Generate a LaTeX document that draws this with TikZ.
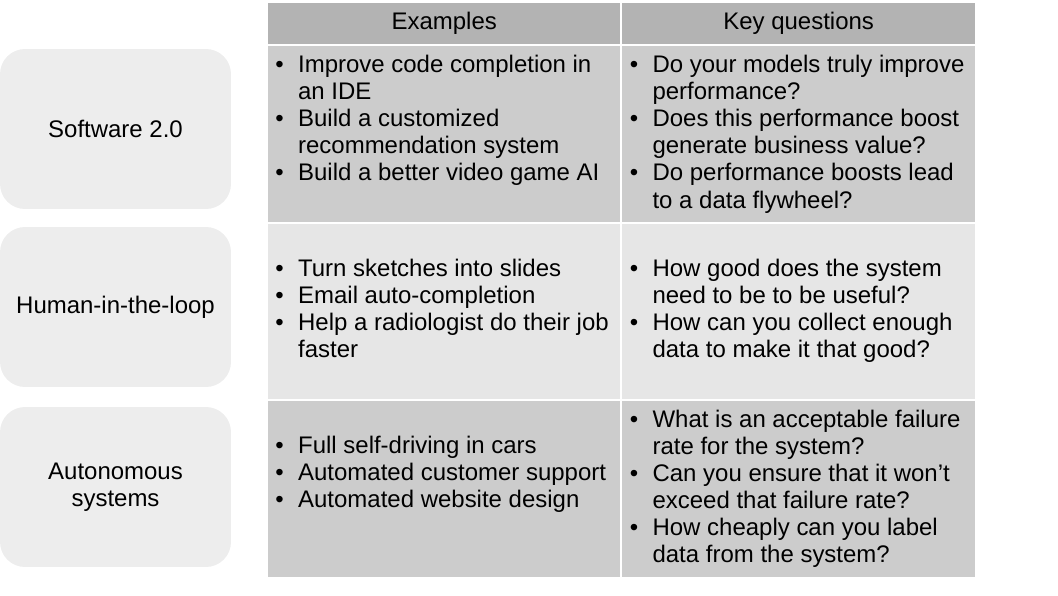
\documentclass[tikz,border=0pt]{standalone}
\usepackage{fontspec}
\setmainfont{Liberation Sans}
\usetikzlibrary{positioning}

\definecolor{boxgray}{HTML}{EDEDED}
\definecolor{hdrgray}{HTML}{B3B3B3}
\definecolor{darkrow}{HTML}{CCCCCC}
\definecolor{lightrow}{HTML}{E6E6E6}

\newcommand{\bul}{\makebox[0.455cm][l]{\textbullet}}
\newcommand{\cont}{\makebox[0.455cm][l]{}}

\begin{document}
\begin{tikzpicture}[
  x=0.02cm, y=-0.02cm,
  font=\fontsize{13.65}{15.4}\selectfont,
  rowbox/.style={fill=boxgray, rounded corners=0.5cm, minimum width=4.62cm, minimum height=3.2cm, align=center},
  cell/.style={draw=white, line width=0.04cm, outer sep=0pt, inner sep=0pt, minimum width=7.09cm},
  hcell/.style={cell, fill=hdrgray, minimum height=0.88cm},
  bcell/.style={cell, minimum height=3.55cm},
  items/.style={align=left, inner sep=0pt, anchor=north west}
]
\useasboundingbox (0,0) rectangle (1058,595);

% Row labels
\node[rowbox] (sw) at (115.5,129) {Software 2.0};
\node[rowbox] (hl) at (115.5,307) {Human-in-the-loop};
\node[rowbox] (au) at (115.5,487) {Autonomous\\systems};

% Table cells
\node[hcell] (exh) at (444.25,23.5) {Examples};
\node[hcell, right=0pt of exh] (kqh) {Key questions};
\node[bcell, fill=darkrow, below=0pt of exh] (ex1) {};
\node[bcell, fill=darkrow, right=0pt of ex1] (kq1) {};
\node[bcell, fill=lightrow, below=0pt of ex1] (ex2) {};
\node[bcell, fill=lightrow, right=0pt of ex2] (kq2) {};
\node[bcell, fill=darkrow, below=0pt of ex2] (ex3) {};
\node[bcell, fill=darkrow, right=0pt of ex3] (kq3) {};

% Cell texts
\node[items] (ex1t) at ([xshift=0.16cm, yshift=-0.19cm]ex1.north west)
  {\bul Improve code completion in\\\cont an IDE\\\bul Build a customized\\\cont recommendation system\\\bul Build a better video game AI};
\node[items] (kq1t) at ([xshift=0.16cm, yshift=-0.19cm]kq1.north west)
  {\bul Do your models truly improve\\\cont performance?\\\bul Does this performance boost\\\cont generate business value?\\\bul Do performance boosts lead\\\cont to a data flywheel?};
\node[items] (ex2t) at ([xshift=0.16cm, yshift=-0.72cm]ex2.north west)
  {\bul Turn sketches into slides\\\bul Email auto-completion\\\bul Help a radiologist do their job\\\cont faster};
\node[items] (kq2t) at ([xshift=0.16cm, yshift=-0.72cm]kq2.north west)
  {\bul How good does the system\\\cont need to be to be useful?\\\bul How can you collect enough\\\cont data to make it that good?};
\node[items] (ex3t) at ([xshift=0.16cm, yshift=-0.71cm]ex3.north west)
  {\bul Full self-driving in cars\\\bul Automated customer support\\\bul Automated website design};
\node[items] (kq3t) at ([xshift=0.16cm, yshift=-0.19cm]kq3.north west)
  {\bul What is an acceptable failure\\\cont rate for the system?\\\bul Can you ensure that it won’t\\\cont exceed that failure rate?\\\bul How cheaply can you label\\\cont data from the system?};

\end{tikzpicture}
\end{document}
